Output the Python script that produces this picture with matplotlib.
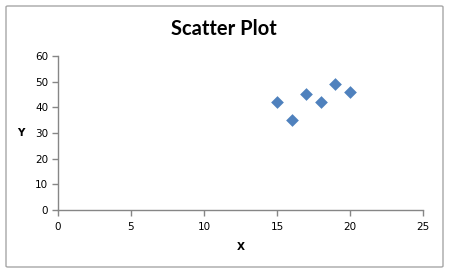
import matplotlib.pyplot as plt
from matplotlib.patches import FancyBboxPatch

# data
x_vals = [15, 16, 17, 18, 19, 20]
y_vals = [42, 35, 45, 42, 49, 46]
x_ticks = [0, 5, 10, 15, 20, 25]
y_ticks = [0, 10, 20, 30, 40, 50, 60]

W, H = 450, 273
fig = plt.figure(figsize=(W / 100, H / 100), dpi=100)

# chart border
fig.patches.append(FancyBboxPatch((6 / W, 6 / H), 437 / W, 261 / H,
                                  boxstyle="round,pad=0,rounding_size=0.004",
                                  transform=fig.transFigure, fill=False,
                                  edgecolor="#a6a6a6", linewidth=1.0))

ax = fig.add_axes([58 / W, (H - 210) / H, (423 - 58) / W, (210 - 56) / H])
ax.scatter(x_vals, y_vals, marker="D", s=42, color="#4f81bd", linewidths=0, zorder=3)

ax.set_xlim(0, 25)
ax.set_ylim(0, 60)
ax.set_xticks(x_ticks)
ax.set_yticks(y_ticks)
for side in ["top", "right"]:
    ax.spines[side].set_visible(False)
for side in ["left", "bottom"]:
    ax.spines[side].set_color("#868686")
    ax.spines[side].set_linewidth(1.0)
ax.tick_params(axis="both", colors="#868686", length=4, width=1.0,
               labelcolor="black", labelsize=7.5)
ax.tick_params(axis="x", pad=5)
ax.tick_params(axis="y", pad=3)

ax.set_xlabel("X", fontsize=7.5, fontweight="bold", labelpad=7)
ax.set_ylabel("Y", fontsize=7.5, fontweight="bold", rotation=0, labelpad=10, va="center")

fig.text(224 / W, (H - 29) / H, "Scatter Plot", ha="center", va="center",
         fontsize=14.5, fontweight="bold", family="Lato")

fig.savefig("out.png", dpi=100)
